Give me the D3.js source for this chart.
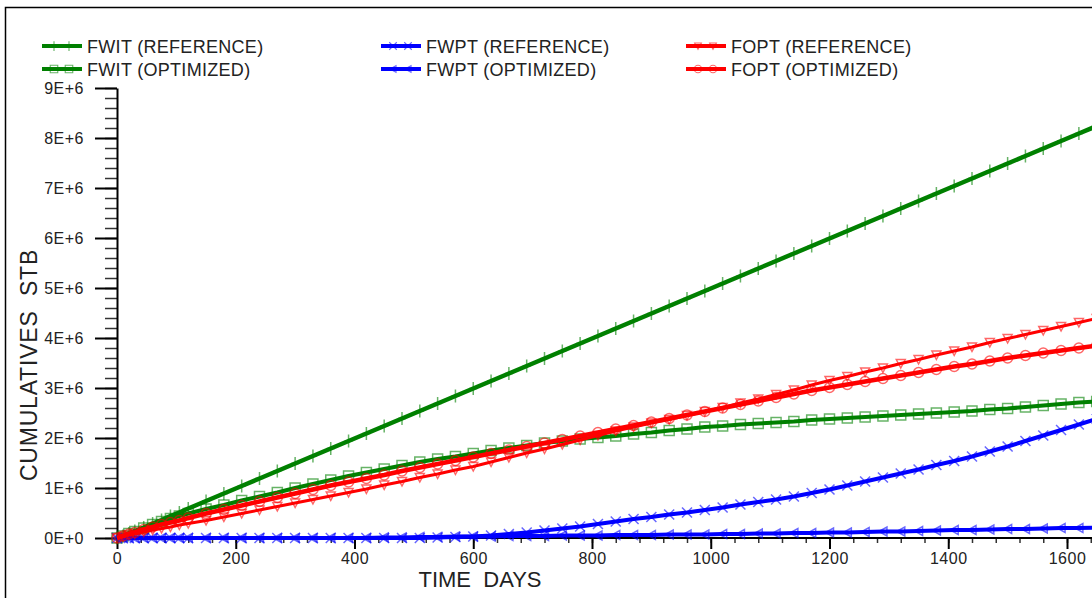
<!DOCTYPE html>
<html>
<head>
<meta charset="utf-8">
<title>Cumulatives STB</title>
<script src="https://d3js.org/d3.v7.min.js"></script>
<style>
  body { margin: 0; background: #fff; }
  text { font-family: "Liberation Sans", Arial, sans-serif; fill: #222; }
</style>
</head>
<body>
<svg id="chart" width="1092" height="598"></svg>
<script>
// report times (days)
const days = [0,10,20,30,45,60,75,90,105,120,
  150,180,210,240,270,300,330,360,390,420,
  450,480,510,540,570,600,630,660,690,720,
  750,780,810,840,870,900,930,960,990,1020,
  1050,1080,1110,1140,1170,1200,1230,1260,1290,1320,
  1350,1380,1410,1440,1470,1500,1530,1560,1590,1620,1650];

// cumulative volumes, millions of STB
const fwitRef = [0,0.04,0.09,0.14,0.21,0.29,0.36,0.44,0.51,0.59,
  0.74,0.89,1.04,1.19,1.34,1.49,1.64,1.79,1.94,2.09,
  2.24,2.39,2.54,2.69,2.84,2.99,3.14,3.29,3.44,3.59,
  3.74,3.89,4.04,4.19,4.34,4.49,4.64,4.79,4.94,5.09,
  5.24,5.39,5.54,5.69,5.84,5.99,6.14,6.29,6.44,6.59,
  6.74,6.89,7.04,7.19,7.34,7.49,7.64,7.79,7.94,8.09,8.24];
const fwitOpt = [0,0.04,0.09,0.13,0.20,0.27,0.33,0.39,0.44,0.49,
  0.58,0.66,0.75,0.83,0.91,1.00,1.08,1.16,1.24,1.31,
  1.38,1.45,1.52,1.58,1.63,1.69,1.75,1.80,1.85,1.90,
  1.94,1.98,2.01,2.04,2.08,2.11,2.15,2.18,2.22,2.24,
  2.27,2.29,2.31,2.33,2.36,2.38,2.40,2.42,2.44,2.46,
  2.48,2.50,2.52,2.54,2.57,2.59,2.62,2.65,2.68,2.71,2.73];
const fwptRef = [0,0,0,0,0,0,0,0,0,0,
  0,0,0,0,0,0,0,0,0,0,
  0,0,0,0.01,0.02,0.03,0.05,0.08,0.11,0.15,
  0.19,0.23,0.28,0.33,0.38,0.42,0.47,0.51,0.56,0.61,
  0.67,0.72,0.77,0.83,0.90,0.97,1.05,1.13,1.21,1.29,
  1.37,1.46,1.54,1.63,1.73,1.83,1.94,2.05,2.16,2.27,2.38];
const fwptOpt = [0,0,0,0,0,0,0,0,0,0,
  0,0,0,0,0,0,0,0,0,0,
  0.01,0.01,0.02,0.02,0.03,0.03,0.03,0.04,0.04,0.04,
  0.05,0.05,0.05,0.06,0.06,0.06,0.07,0.07,0.07,0.08,
  0.08,0.09,0.09,0.10,0.10,0.11,0.11,0.12,0.13,0.13,
  0.14,0.15,0.16,0.16,0.17,0.18,0.18,0.19,0.20,0.20,0.21];
const foptRef = [0,0.03,0.06,0.08,0.12,0.16,0.19,0.22,0.26,0.29,
  0.35,0.42,0.49,0.56,0.63,0.70,0.77,0.84,0.91,0.98,
  1.06,1.13,1.21,1.28,1.36,1.43,1.52,1.61,1.70,1.78,
  1.87,1.96,2.05,2.14,2.22,2.30,2.37,2.45,2.53,2.61,
  2.70,2.78,2.87,2.96,3.06,3.15,3.23,3.32,3.40,3.49,
  3.57,3.66,3.74,3.82,3.91,3.99,4.07,4.15,4.23,4.31,4.39];
const foptOpt = [0,0.04,0.08,0.11,0.17,0.22,0.27,0.31,0.35,0.40,
  0.49,0.57,0.65,0.73,0.81,0.89,0.97,1.05,1.12,1.19,
  1.26,1.34,1.41,1.48,1.55,1.62,1.69,1.76,1.83,1.90,
  1.97,2.04,2.11,2.18,2.25,2.32,2.39,2.46,2.53,2.60,
  2.67,2.74,2.81,2.88,2.95,3.01,3.07,3.13,3.19,3.25,
  3.31,3.37,3.43,3.48,3.54,3.60,3.65,3.70,3.75,3.80,3.85];

const seriesNames = ["FWIT (REFERENCE)","FWIT (OPTIMIZED)","FWPT (REFERENCE)",
  "FWPT (OPTIMIZED)","FOPT (REFERENCE)","FOPT (OPTIMIZED)"];

const xTicks = [0,200,400,600,800,1000,1200,1400,1600];
const yTicks = [0,1,2,3,4,5,6,7,8,9];
const yTickLabels = ["0E+0","1E+6","2E+6","3E+6","4E+6","5E+6","6E+6","7E+6","8E+6","9E+6"];

// marker shapes
const markers = {
  plus: "M0,-6.5V6.5M-4,0H4",
  square: "M-5,-5H5V5H-5Z",
  cross: "M-5,-5L5,5M-5,5L5,-5",
  triLeft: "M-4,0L4,-4.5L4,4.5Z",
  triDown: "M-4.5,-4L4.5,-4L0,4.5Z",
  circle: "M5,0A5,5 0 1,1 -5,0A5,5 0 1,1 5,0Z"
};

const series = [
  {name: seriesNames[0], values: fwitRef, color: "#008000", marker: "plus",    width: 4.5},
  {name: seriesNames[1], values: fwitOpt, color: "#008000", marker: "square",  width: 4},
  {name: seriesNames[2], values: fwptRef, color: "#0000ff", marker: "cross",   width: 4},
  {name: seriesNames[3], values: fwptOpt, color: "#0000ff", marker: "triLeft", width: 4},
  {name: seriesNames[4], values: foptRef, color: "#ff0000", marker: "triDown", width: 3},
  {name: seriesNames[5], values: foptOpt, color: "#ff0000", marker: "circle",  width: 4.5}
];

const svg = d3.select("#chart");

// frame
svg.append("rect")
  .attr("x", 5.5).attr("y", 7.5)
  .attr("width", 1200).attr("height", 700)
  .attr("fill", "none").attr("stroke", "#000").attr("stroke-width", 1.5);

const x = d3.scaleLinear().domain([0, 1600]).range([117, 1067]);
const y = d3.scaleLinear().domain([0, 9]).range([538, 88]);

// y axis, minor then major
svg.append("g")
  .attr("transform", "translate(117,0)")
  .call(d3.axisLeft(y).tickValues(d3.range(0, 9.001, 0.2)).tickSize(12).tickSizeOuter(0).tickFormat(""))
  .call(g => g.select(".domain").remove())
  .call(g => g.selectAll("line").attr("stroke", "#333").attr("stroke-width", 1.5));

svg.append("g")
  .attr("transform", "translate(117,0)")
  .call(d3.axisLeft(y).tickValues(yTicks).tickSize(22).tickSizeOuter(0).tickPadding(11)
    .tickFormat((d, i) => yTickLabels[i]))
  .call(g => g.select(".domain").attr("stroke", "#000").attr("stroke-width", 2))
  .call(g => g.selectAll("line").attr("stroke", "#000").attr("stroke-width", 2))
  .call(g => g.selectAll("text").attr("fill", "#222").style("font-size", "16px")
    .style("letter-spacing", "0.5px")
    .style("font-family", "Liberation Sans, Arial, sans-serif"));

// x axis
const xEnd = x.invert(1100);
svg.append("g")
  .attr("transform", "translate(0,538)")
  .call(d3.axisBottom(x).tickValues(d3.range(0, xEnd, 40)).tickSize(5).tickSizeOuter(0).tickFormat(""))
  .call(g => g.select(".domain").remove())
  .call(g => g.selectAll("line").attr("stroke", "#333").attr("stroke-width", 1.5));

svg.append("g")
  .attr("transform", "translate(0,538)")
  .call(d3.axisBottom(x).tickValues(xTicks).tickSize(11).tickSizeOuter(0).tickPadding(4)
    .tickFormat(d3.format("d")))
  .call(g => g.select(".domain").attr("d", "M" + x(0) + ",0H1100").attr("stroke", "#000").attr("stroke-width", 2))
  .call(g => g.selectAll("line").attr("stroke", "#000").attr("stroke-width", 2))
  .call(g => g.selectAll("text").attr("fill", "#222").style("font-size", "16px")
    .style("letter-spacing", "0.5px")
    .style("font-family", "Liberation Sans, Arial, sans-serif"));

// axis titles
svg.append("text")
  .attr("x", 480).attr("y", 587)
  .attr("text-anchor", "middle")
  .style("font-size", "22px")
  .style("white-space", "pre")
  .text("TIME  DAYS");

svg.append("text")
  .attr("transform", "translate(37,365)rotate(-90)")
  .attr("text-anchor", "middle")
  .style("font-size", "23px")
  .style("letter-spacing", "0.8px")
  .style("white-space", "pre")
  .text("CUMULATIVES  STB");

// lines and markers
const line = d3.line()
  .x((d, i) => x(days[i]))
  .y(d => y(d));

series.forEach(s => {
  svg.append("path")
    .datum(s.values)
    .attr("d", line)
    .attr("fill", "none")
    .attr("stroke", s.color)
    .attr("stroke-width", s.width)
    .attr("stroke-linejoin", "round");

  svg.append("g")
    .selectAll("path")
    .data(s.values)
    .enter()
    .append("path")
    .attr("transform", (d, i) => "translate(" + x(days[i]) + "," + y(d) + ")")
    .attr("d", markers[s.marker])
    .attr("fill", "none")
    .attr("stroke", s.color)
    .attr("stroke-opacity", 0.6)
    .attr("stroke-width", 1.5);
});

// legend
const legendX = [42, 381, 686];
const legendY = [46, 69];
series.forEach((s, i) => {
  const lx = legendX[Math.floor(i / 2)];
  const ly = legendY[i % 2];
  const g = svg.append("g").attr("transform", "translate(" + lx + "," + ly + ")");
  g.append("line")
    .attr("x1", 0).attr("x2", 40)
    .attr("stroke", s.color).attr("stroke-width", 4);
  [12, 27].forEach(mx => {
    g.append("path")
      .attr("transform", "translate(" + mx + ",0) scale(0.75)")
      .attr("d", markers[s.marker])
      .attr("fill", "none")
      .attr("stroke", s.color)
      .attr("stroke-opacity", 0.6)
      .attr("stroke-width", 1.5);
  });
  g.append("text")
    .attr("x", 45).attr("y", 7)
    .style("font-size", "18px")
    .style("letter-spacing", "0.3px")
    .text(s.name);
});
</script>
</body>
</html>
